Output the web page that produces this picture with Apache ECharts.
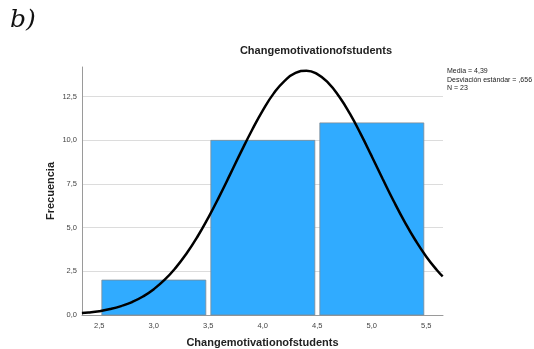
<!DOCTYPE html>
<html>
<head>
<meta charset="utf-8">
<script src="https://cdn.jsdelivr.net/npm/echarts@6/dist/echarts.min.js"></script>
<style>
  html, body { margin: 0; padding: 0; background: #fff; }
  #chart { width: 534px; height: 349px; }
</style>
</head>
<body>
<div id="chart"></div>
<script>
// histogram bins [from, to] and counts
var binStart = [2.5, 3.5, 4.5];
var binEnd = [3.5, 4.5, 5.5];
var counts = [2, 10, 11];

// normal curve, values
var curveX = [2.34, 2.4, 2.5, 2.6, 2.7, 2.8, 2.9, 3.0, 3.1, 3.2, 3.3, 3.4, 3.5, 3.6, 3.7, 3.8, 3.9, 4.0,
  4.1, 4.2, 4.3, 4.4, 4.5, 4.6, 4.7, 4.8, 4.9, 5.0, 5.1, 5.2, 5.3, 5.4, 5.5, 5.6, 5.65];
var curveY = [0.11, 0.14, 0.22, 0.34, 0.51, 0.74, 1.06, 1.48, 2.02, 2.7, 3.52, 4.48, 5.58, 6.78, 8.05, 9.34, 10.58, 11.72,
  12.69, 13.41, 13.86, 13.99, 13.79, 13.29, 12.51, 11.51, 10.34, 9.08, 7.79, 6.53, 5.35, 4.28, 3.34, 2.55, 2.21];

var xTicks = [2.5, 3.0, 3.5, 4.0, 4.5, 5.0, 5.5];
var yTicks = [0, 2.5, 5, 7.5, 10, 12.5];
var stats = ["Media = 4,39", "Desviación estándar = ,656", "N = 23"];

var chart = echarts.init(document.getElementById("chart"));

var barData = [];
for (var i = 0; i < counts.length; i++) {
  barData.push([binStart[i], binEnd[i], counts[i]]);
}
var lineData = [];
for (var j = 0; j < curveX.length; j++) {
  lineData.push([curveX[j], curveY[j]]);
}

function comma(v) {
  return v.toFixed(1).replace(".", ",");
}

var option = {
  animation: false,
  textStyle: { fontFamily: "Liberation Sans, Arial, sans-serif" },
  grid: { left: 82, right: 91, top: 67, bottom: 34, outerBoundsMode: "none", containLabel: false },
  title: {
    text: "Changemotivationofstudents",
    left: 311, top: 40, textAlign: "center",
    textStyle: { fontSize: 11, fontWeight: "bold", color: "#222" }
  },
  graphic: [
    {
      type: "text", left: 10, top: 8,
      style: { text: "b)", font: "italic 25px 'DejaVu Serif', serif", fill: "#111" }
    },
    {
      type: "text", left: 447, top: 67,
      style: { text: stats.join("\n"), font: "7px 'Liberation Sans', Arial", fill: "#222", lineHeight: 8.5 }
    }
  ],
  xAxis: {
    type: "value",
    min: 2.341, max: 5.653,
    name: "Changemotivationofstudents",
    nameLocation: "middle", nameGap: 22, nameMoveOverlap: false,
    nameTextStyle: { fontSize: 11, fontWeight: "bold", color: "#222" },
    axisLine: { lineStyle: { color: "#9a9a9a", width: 1 } },
    axisTick: { show: false },
    splitLine: { show: false },
    axisLabel: {
      customValues: xTicks, fontSize: 7.5, color: "#444", margin: 7,
      formatter: function (v) { return comma(v); }
    }
  },
  yAxis: {
    type: "value",
    min: 0, max: 14.2,
    name: "Frecuencia",
    nameLocation: "middle", nameGap: 26, nameMoveOverlap: false,
    nameTextStyle: { fontSize: 11, fontWeight: "bold", color: "#222" },
    axisLine: { show: true, lineStyle: { color: "#9a9a9a", width: 1 } },
    axisTick: { show: false },
    splitLine: { show: false },
    axisLabel: {
      customValues: yTicks, fontSize: 7.5, color: "#444", margin: 5,
      formatter: function (v) { return comma(v); }
    }
  },
  series: [
    {
      // grid lines at the y ticks, kept behind the bars
      type: "line", data: [], silent: true, z: 0,
      markLine: {
        symbol: "none", silent: true, label: { show: false }, z: 0,
        lineStyle: { color: "#dcdcdc", width: 1, type: "solid" },
        data: yTicks.slice(1).map(function (v) { return { yAxis: v }; })
      }
    },
    {
      type: "custom",
      z: 3,
      data: barData,
      encode: { x: [0, 1], y: 2 },
      renderItem: function (params, api) {
        var a = api.coord([api.value(0), api.value(2)]);
        var b = api.coord([api.value(1), 0]);
        return {
          type: "rect",
          shape: { x: a[0] + 2.5, y: a[1], width: b[0] - a[0] - 5, height: b[1] - a[1] },
          style: { fill: "#30abff", stroke: "#7d8a94", lineWidth: 0.8 }
        };
      }
    },
    {
      type: "line",
      z: 4,
      data: lineData,
      smooth: true,
      showSymbol: false,
      lineStyle: { color: "#000", width: 2.5 }
    }
  ]
};

chart.setOption(option);
window.addEventListener("resize", function () {
  chart.resize();
});
</script>
</body>
</html>
